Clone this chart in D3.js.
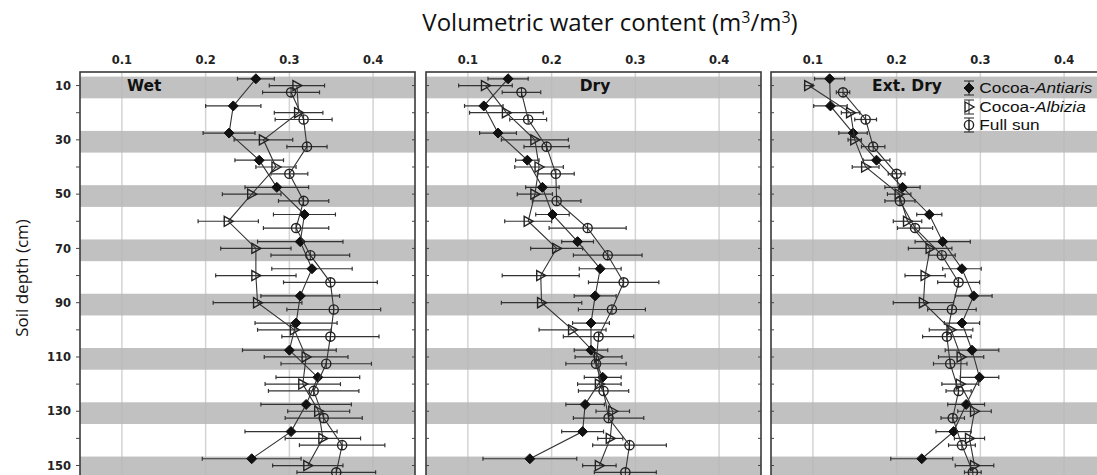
<!DOCTYPE html>
<html>
<head>
<meta charset="utf-8">
<script src="https://cdn.jsdelivr.net/npm/d3@7"></script>
<style>
  body { margin: 0; background: #fff; }
  svg { display: block; }
  .tickText { font-family: "DejaVu Sans", sans-serif; font-weight: bold; font-size: 11.5px; fill: #222; }
  .panelText { font-family: "DejaVu Sans", sans-serif; font-weight: bold; font-size: 15.5px; fill: #111; }
  .axisTitle { font-family: "Open Sans", sans-serif; font-size: 24px; fill: #111; }
  .legendText { font-family: "Liberation Sans", Arial, sans-serif; font-size: 15px; fill: #111; }
</style>
</head>
<body>
<div id="chart"></div>
<script>
// data (depth in cm, water content in m3/m3)
var depths = [10, 20, 30, 40, 50, 60, 70, 80, 90, 100, 110, 120, 130, 140, 150];
var xTicks = [0.1, 0.2, 0.3, 0.4];
var yTicks = [10, 30, 50, 70, 90, 110, 130, 150];
var panelNames = ['Wet', 'Dry', 'Ext. Dry'];
var seriesNames = ['Antiaris', 'Albizia', 'Full sun'];

// Wet
var wetAntiaris = [0.260, 0.233, 0.228, 0.264, 0.285, 0.318, 0.313, 0.327, 0.313, 0.308, 0.300, 0.334, 0.320, 0.302, 0.255];
var wetAntiarisErr = [0.022, 0.033, 0.031, 0.029, 0.038, 0.037, 0.051, 0.048, 0.047, 0.049, 0.056, 0.050, 0.054, 0.055, 0.059];
var wetAlbizia = [0.309, 0.311, 0.269, 0.284, 0.255, 0.227, 0.260, 0.260, 0.262, 0.306, 0.320, 0.316, 0.335, 0.340, 0.322];
var wetAlbiziaErr = [0.033, 0.029, 0.035, 0.024, 0.035, 0.036, 0.042, 0.048, 0.053, 0.044, 0.050, 0.045, 0.037, 0.045, 0.042];
var wetSun = [0.302, 0.317, 0.321, 0.300, 0.317, 0.308, 0.325, 0.349, 0.353, 0.349, 0.344, 0.329, 0.341, 0.363, 0.356];
var wetSunErr = [0.034, 0.034, 0.024, 0.022, 0.030, 0.039, 0.047, 0.056, 0.056, 0.058, 0.054, 0.054, 0.046, 0.051, 0.047];

// Dry
var dryAntiaris = [0.148, 0.119, 0.136, 0.171, 0.189, 0.201, 0.231, 0.258, 0.252, 0.247, 0.247, 0.261, 0.240, 0.237, 0.174];
var dryAntiarisErr = [0.024, 0.023, 0.022, 0.014, 0.020, 0.020, 0.019, 0.025, 0.025, 0.022, 0.020, 0.022, 0.023, 0.025, 0.056];
var dryAlbizia = [0.121, 0.146, 0.180, 0.185, 0.180, 0.172, 0.206, 0.187, 0.188, 0.225, 0.256, 0.257, 0.273, 0.270, 0.257];
var dryAlbiziaErr = [0.032, 0.044, 0.040, 0.029, 0.021, 0.028, 0.031, 0.046, 0.048, 0.040, 0.028, 0.026, 0.020, 0.015, 0.020];
var drySun = [0.164, 0.172, 0.194, 0.205, 0.206, 0.243, 0.267, 0.286, 0.272, 0.256, 0.253, 0.262, 0.268, 0.293, 0.288];
var drySunErr = [0.023, 0.022, 0.027, 0.022, 0.029, 0.046, 0.041, 0.042, 0.040, 0.042, 0.036, 0.030, 0.042, 0.044, 0.037];

// Ext. Dry
var extAntiaris = [0.120, 0.121, 0.148, 0.176, 0.207, 0.239, 0.255, 0.278, 0.292, 0.278, 0.290, 0.299, 0.283, 0.268, 0.230];
var extAntiarisErr = [0.018, 0.020, 0.017, 0.016, 0.021, 0.015, 0.033, 0.023, 0.022, 0.021, 0.032, 0.023, 0.022, 0.021, 0.037];
var extAlbizia = [0.095, 0.145, 0.150, 0.163, 0.203, 0.213, 0.240, 0.234, 0.232, 0.265, 0.277, 0.276, 0.293, 0.287, 0.293];
var extAlbiziaErr = [0.005, 0.011, 0.008, 0.016, 0.014, 0.017, 0.026, 0.024, 0.036, 0.026, 0.027, 0.022, 0.020, 0.018, 0.023];
var extSun = [0.136, 0.163, 0.172, 0.200, 0.204, 0.222, 0.254, 0.274, 0.266, 0.260, 0.264, 0.274, 0.267, 0.278, 0.291];
var extSunErr = [0.008, 0.013, 0.014, 0.010, 0.018, 0.021, 0.016, 0.025, 0.029, 0.029, 0.020, 0.015, 0.014, 0.016, 0.010];

var panelData = [
  [[wetAntiaris, wetAntiarisErr], [wetAlbizia, wetAlbiziaErr], [wetSun, wetSunErr]],
  [[dryAntiaris, dryAntiarisErr], [dryAlbizia, dryAlbiziaErr], [drySun, drySunErr]],
  [[extAntiaris, extAntiarisErr], [extAlbizia, extAlbiziaErr], [extSun, extSunErr]]
];

// 1. svg size and panel layout
var svgWidth = 1097;
var svgHeight = 475;
var panelLeft = [80, 426, 771];
var panelWidth = 335;
var plotTop = 72;
// series are shifted a little in depth so bars don't overlap
var dodge = [-2.5, 0, 2.5];

var svg = d3.select('#chart')
  .append('svg')
  .attr('width', svgWidth)
  .attr('height', svgHeight);

var yScale = d3.scaleLinear()
  .domain([5, 160])
  .range([plotTop, plotTop + 155 * 2.714]);

// 2. titles
svg.append('text')
  .classed('axisTitle', true)
  .attr('x', 610)
  .attr('y', 31)
  .attr('text-anchor', 'middle')
  .html('Volumetric water content (m<tspan dy="-8" font-size="16px">3</tspan><tspan dy="8">/m</tspan><tspan dy="-8" font-size="16px">3</tspan><tspan dy="8">)</tspan>');

svg.append('text')
  .classed('axisTitle', true)
  .attr('transform', 'translate(28, 278) rotate(-90)')
  .attr('text-anchor', 'middle')
  .style('font-size', '17px')
  .text('Soil depth (cm)');

// y tick labels
svg.selectAll('.yLabel')
  .data(yTicks)
  .enter()
  .append('text')
  .classed('tickText', true)
  .attr('x', 71)
  .attr('y', d => yScale(d))
  .attr('dy', '0.36em')
  .attr('text-anchor', 'end')
  .text(d => d);

// 3. marker drawing
function drawMarker(g, k) {
  if (k === 0) {
    g.append('path')
      .attr('d', 'M0,-5L5,0L0,5L-5,0Z')
      .attr('fill', '#111')
      .attr('stroke', '#111');
  } else if (k === 1) {
    g.append('path')
      .attr('d', 'M-4,-5L5,0L-4,5Z')
      .attr('fill', 'none')
      .attr('stroke', '#222')
      .attr('stroke-width', 1.4);
  } else {
    g.append('circle')
      .attr('r', 4.6)
      .attr('fill', 'none')
      .attr('stroke', '#222')
      .attr('stroke-width', 1.4);
    g.append('line')
      .attr('y1', -4.6).attr('y2', 4.6)
      .attr('stroke', '#222')
      .attr('stroke-width', 1);
  }
}

// 4. panels
panelNames.forEach(function(name, p) {
  var x0 = panelLeft[p];
  var xScale = d3.scaleLinear()
    .domain([0.05, 0.45])
    .range([x0, x0 + panelWidth]);

  var panel = svg.append('g');

  // gray bands behind labelled depths
  panel.selectAll('.band')
    .data(yTicks)
    .enter()
    .append('rect')
    .attr('x', x0)
    .attr('width', panelWidth)
    .attr('y', d => yScale(Math.max(5, d - 3.3)))
    .attr('height', d => yScale(d + 4.7) - yScale(Math.max(5, d - 3.3)))
    .attr('fill', '#c1c1c1');

  // vertical grid
  panel.selectAll('.grid')
    .data(xTicks)
    .enter()
    .append('line')
    .attr('x1', d => xScale(d))
    .attr('x2', d => xScale(d))
    .attr('y1', plotTop)
    .attr('y2', svgHeight)
    .attr('stroke', '#b8b8b8')
    .attr('stroke-opacity', 0.6)
    .attr('stroke-width', 1.5);

  // x tick labels on top
  panel.selectAll('.xLabel')
    .data(xTicks)
    .enter()
    .append('text')
    .classed('tickText', true)
    .attr('x', d => xScale(d))
    .attr('y', 64)
    .attr('text-anchor', 'middle')
    .text(d => d3.format('.1f')(d));

  // frame
  panel.append('rect')
    .attr('x', x0)
    .attr('y', plotTop)
    .attr('width', panelWidth)
    .attr('height', svgHeight + 40 - plotTop)
    .attr('fill', 'none')
    .attr('stroke', '#3a3a3a')
    .attr('stroke-width', 1.6);

  // small depth ticks on the frame
  var minor = d3.range(10, 160, 10);
  panel.selectAll('.lt')
    .data(minor)
    .enter()
    .append('line')
    .attr('x1', p === 0 ? x0 - 4 : x0)
    .attr('x2', p === 0 ? x0 : x0 + 3)
    .attr('y1', d => yScale(d))
    .attr('y2', d => yScale(d))
    .attr('stroke', '#444');
  panel.selectAll('.rt')
    .data(minor)
    .enter()
    .append('line')
    .attr('x1', x0 + panelWidth - 3)
    .attr('x2', x0 + panelWidth)
    .attr('y1', d => yScale(d))
    .attr('y2', d => yScale(d))
    .attr('stroke', '#444');

  // panel name
  panel.append('text')
    .classed('panelText', true)
    .attr('x', p === 0 ? x0 + 47 : (p === 1 ? x0 + 169 : x0 + 136))
    .attr('y', 91)
    .attr('text-anchor', p === 0 ? 'start' : 'middle')
    .text(name);

  // series
  panelData[p].forEach(function(s, k) {
    var vals = s[0];
    var errs = s[1];
    var pts = depths.map(function(d, i) {
      return {depth: d + dodge[k], v: vals[i], e: errs[i]};
    });

    panel.append('path')
      .datum(pts)
      .attr('fill', 'none')
      .attr('stroke', '#333')
      .attr('stroke-width', 1.1)
      .attr('d', d3.line().x(d => xScale(d.v)).y(d => yScale(d.depth)));

    var bars = panel.selectAll('.err' + k)
      .data(pts)
      .enter()
      .append('g')
      .attr('stroke', '#333')
      .attr('stroke-width', 1.2);
    bars.append('line')
      .attr('x1', d => xScale(d.v - d.e))
      .attr('x2', d => xScale(d.v + d.e))
      .attr('y1', d => yScale(d.depth))
      .attr('y2', d => yScale(d.depth));
    bars.append('line')
      .attr('x1', d => xScale(d.v - d.e))
      .attr('x2', d => xScale(d.v - d.e))
      .attr('y1', d => yScale(d.depth) - 2)
      .attr('y2', d => yScale(d.depth) + 2);
    bars.append('line')
      .attr('x1', d => xScale(d.v + d.e))
      .attr('x2', d => xScale(d.v + d.e))
      .attr('y1', d => yScale(d.depth) - 2)
      .attr('y2', d => yScale(d.depth) + 2);

    pts.forEach(function(d) {
      var g = panel.append('g')
        .attr('transform', `translate(${xScale(d.v)}, ${yScale(d.depth)})`);
      drawMarker(g, k);
    });
  });
});

// 5. legend
var legendY = [88, 107, 125];
seriesNames.forEach(function(name, k) {
  var g = svg.append('g')
    .attr('transform', `translate(969, ${legendY[k]})`);
  g.append('line').attr('y1', -7).attr('y2', 7).attr('stroke', '#222');
  g.append('line').attr('x1', -5).attr('x2', 5).attr('y1', -7).attr('y2', -7).attr('stroke', '#222');
  g.append('line').attr('x1', -5).attr('x2', 5).attr('y1', 7).attr('y2', 7).attr('stroke', '#222');
  drawMarker(g, k);
  var t = g.append('text')
    .classed('legendText', true)
    .attr('x', 9)
    .attr('dy', '0.35em')
    .attr('transform', 'scale(1.15, 1)');
  if (k < 2) {
    t.append('tspan').text('Cocoa-');
    t.append('tspan').style('font-style', 'italic').text(name);
  } else {
    t.text(name);
  }
});
</script>
</body>
</html>
